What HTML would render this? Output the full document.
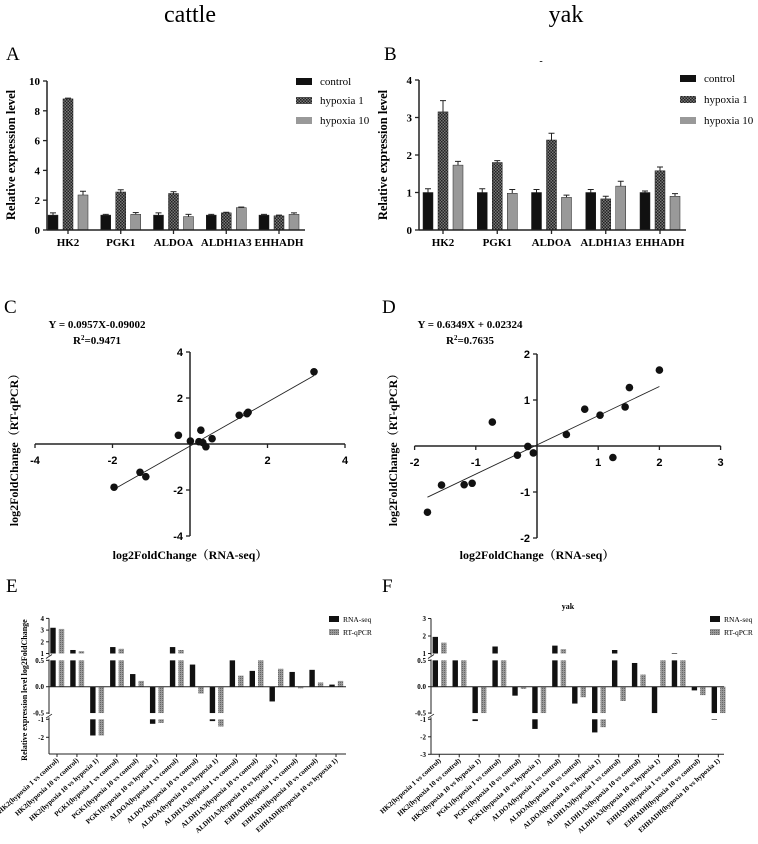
<!DOCTYPE html>
<html><head><meta charset="utf-8"><style>
html,body{margin:0;padding:0;background:#fff;}
svg{display:block;font-family:"Liberation Serif",serif;}
</style></head><body>
<svg id="fig" width="758" height="844" viewBox="0 0 758 844" xmlns="http://www.w3.org/2000/svg">
<defs>
<pattern id="chk" width="3" height="3" patternUnits="userSpaceOnUse"><rect width="3" height="3" fill="#777"/><rect width="1.5" height="1.5" fill="#222"/><rect x="1.5" y="1.5" width="1.5" height="1.5" fill="#222"/></pattern>
<pattern id="chk2" width="2" height="2" patternUnits="userSpaceOnUse"><rect width="2" height="2" fill="#999"/><rect width="1" height="1" fill="#666"/></pattern>
</defs>
<text x="190" y="22" font-size="24" text-anchor="middle">cattle</text>
<text x="566" y="22" font-size="24" text-anchor="middle">yak</text>
<text x="6" y="60" font-size="19">A</text>
<text x="384" y="60" font-size="19">B</text>
<text x="4" y="313" font-size="19">C</text>
<text x="382" y="313" font-size="19">D</text>
<text x="6" y="592" font-size="19">E</text>
<text x="382" y="592" font-size="19">F</text>
<text x="541" y="64" font-size="10" text-anchor="middle">-</text>
<g id="root"></g>
</svg>
<script>
// ---- Panel A/B data ----
const genes = ["HK2","PGK1","ALDOA","ALDH1A3","EHHADH"];
const seriesNames = ["control","hypoxia 1","hypoxia 10"];
const aControl = [1,1,1,1,1];
const aHyp1 = [8.8,2.55,2.45,1.15,0.95];
const aHyp10 = [2.35,1.05,0.9,1.5,1.05];
const aControlErr = [0.15,0.05,0.15,0.05,0.05];
const aHyp1Err = [0.05,0.15,0.12,0.04,0.05];
const aHyp10Err = [0.25,0.12,0.15,0.04,0.1];
const aTicks = [0,2,4,6,8,10];
const bControl = [1,1,1,1,1];
const bHyp1 = [3.15,1.8,2.4,0.83,1.58];
const bHyp10 = [1.73,0.98,0.87,1.17,0.9];
const bControlErr = [0.1,0.1,0.08,0.08,0.04];
const bHyp1Err = [0.3,0.05,0.18,0.07,0.1];
const bHyp10Err = [0.1,0.1,0.06,0.13,0.07];
const bTicks = [0,1,2,3,4];
// ---- Panel C/D data ----
const cX = [3.2,1.5,1.47,1.27,0.57,0.28,0.23,0.33,0.41,0.01,-0.3,-1.29,-1.14,-1.96];
const cY = [3.14,1.38,1.32,1.25,0.23,0.6,0.1,0.06,-0.12,0.13,0.38,-1.23,-1.42,-1.88];
const cFit = [0.957,-0.09];
const cTicks = [-4,-2,2,4];
const dX = [2.0,1.51,1.44,0.78,1.03,0.48,1.24,-0.73,-0.15,-0.32,-0.06,-1.56,-1.19,-1.06,-1.79];
const dY = [1.65,1.27,0.85,0.8,0.67,0.25,-0.25,0.52,-0.01,-0.2,-0.15,-0.85,-0.84,-0.81,-1.44];
const dFit = [0.6349,0.02324];
const dXTicks = [-2,-1,1,2,3];
const dYTicks = [-2,-1,1,2];
// ---- Panel E/F data ----
const compLabels = ["HK2(hypoxia 1 vs control)","HK2(hypoxia 10 vs control)","HK2(hypoxia 10 vs hypoxia 1)","PGK1(hypoxia 1 vs control)","PGK1(hypoxia 10 vs control)","PGK1(hypoxia 10 vs hypoxia 1)","ALDOA(hypoxia 1 vs control)","ALDOA(hypoxia 10 vs control)","ALDOA(hypoxia 10 vs hypoxia 1)","ALDH1A3(hypoxia 1 vs control)","ALDH1A3(hypoxia 10 vs control)","ALDH1A3(hypoxia 10 vs hypoxia 1)","EHHADH(hypoxia 1 vs control)","EHHADH(hypoxia 10 vs control)","EHHADH(hypoxia 10 vs hypoxia 1)"];
const eRna = [3.2,1.3,-1.9,1.55,0.24,-1.25,1.55,0.42,-1.1,0.5,0.3,-0.28,0.28,0.32,0.04];
const eQpcr = [3.1,1.2,-1.9,1.4,0.11,-1.2,1.3,-0.13,-1.4,0.21,0.5,0.34,-0.03,0.08,0.11];
const fRna = [1.95,0.8,-1.1,1.4,-0.17,-1.55,1.45,-0.32,-1.75,1.2,0.45,-0.8,1.02,-0.07,-1.03];
const fQpcr = [1.62,0.8,-0.8,0.8,-0.04,-0.8,1.25,-0.2,-1.45,-0.27,0.23,0.8,0.8,-0.16,-0.8];
const eTopTicks = [1,2,3,4];
const fTopTicks = [1,2,3];
const midTicks = [0.5,0,-0.5];
const eBotTicks = [-1,-2];
const fBotTicks = [-1,-2,-3];

const NS="http://www.w3.org/2000/svg";
const root=document.getElementById('root');
function el(tag,attrs,parent,txt){const e=document.createElementNS(NS,tag);for(const k in attrs)e.setAttribute(k,attrs[k]);if(txt!==undefined)e.textContent=txt;(parent||root).appendChild(e);return e;}

// ---------- bar panels ----------
function barPanel(p,ctrl,h1,h10,ce,h1e,h10e,ticks){
  const y=v=>p.y0-v*p.ppu;
  const gx=i=>p.x0+i*p.sp;
  const g=el('g',{});
  
  
  const fills=["#111","url(#chk)","#999"];
  const sets=[ctrl,h1,h10], errs=[ce,h1e,h10e];
  for(let i=0;i<genes.length;i++){
    for(let s=0;s<3;s++){
      const cx=gx(i)+s*15, v=sets[s][i], e=errs[s][i];
      const r=el('rect',{x:cx-5,y:y(v),width:10,height:p.y0-y(v),fill:fills[s],stroke:'#222','stroke-width':0.5},g);
      
      
      el('line',{x1:cx,x2:cx,y1:y(v),y2:y(v+e),stroke:'#222','stroke-width':1},g);
      el('line',{x1:cx-3,x2:cx+3,y1:y(v+e),y2:y(v+e),stroke:'#222','stroke-width':1},g);
    }
    el('line',{x1:gx(i)+15,x2:gx(i)+15,y1:p.y0,y2:p.y0+4,stroke:'#222','stroke-width':1.3},g);
    const t=el('text',{x:gx(i)+15,y:p.y0+16,'font-size':11,'font-weight':'bold','text-anchor':'middle'},g,genes[i]);
    
    
  }
  el('line',{x1:p.ax,x2:p.ax,y1:p.y0,y2:y(ticks[ticks.length-1]),stroke:'#222','stroke-width':1.5},g);
  el('line',{x1:p.ax,x2:p.xend,y1:p.y0,y2:p.y0,stroke:'#222','stroke-width':1.5},g);
  ticks.forEach(t=>{
    el('line',{x1:p.ax-4,x2:p.ax,y1:y(t),y2:y(t),stroke:'#222','stroke-width':1.3},g);
    const tt=el('text',{x:p.ax-7,y:y(t)+4,'font-size':11,'font-weight':'bold','text-anchor':'end'},g,String(t));
    
    
  });
  const yt=el('text',{transform:`translate(${p.ax-32},${p.y0-75}) rotate(-90)`,'font-size':12.5,'font-weight':'bold','text-anchor':'middle'},g,'Relative expression level');
  
  
  for(let s=0;s<3;s++){
    const ly=p.ly[s];
    const sw=el('rect',{x:p.lx,y:ly-4,width:16,height:7,fill:fills[s]},g);
    
    
    const lt=el('text',{x:p.lx+24,y:ly+3,'font-size':11},g,seriesNames[s]);
    
    
  }
}
barPanel({name:'panel-a-chart',ax:47,y0:230,ppu:14.9,x0:53,sp:52.75,xend:305,lx:296,ly:[82,101,121]},aControl,aHyp1,aHyp10,aControlErr,aHyp1Err,aHyp10Err,aTicks);
barPanel({name:'panel-b-chart',ax:419,y0:230,ppu:37.5,x0:428,sp:54.25,xend:686,lx:680,ly:[79,100,121]},bControl,bHyp1,bHyp10,bControlErr,bHyp1Err,bHyp10Err,bTicks);

// ---------- scatter panels ----------
function scatter(p,xs,ys,fit,xt,yt){
  const X=v=>p.ox+v*p.px, Y=v=>p.oy-v*p.py;
  const g=el('g',{});
  
  
  el('line',{x1:X(p.xmin),x2:X(p.xmax),y1:p.oy,y2:p.oy,stroke:'#222','stroke-width':1.5},g);
  el('line',{x1:p.ox,x2:p.ox,y1:Y(p.ymin),y2:Y(p.ymax),stroke:'#222','stroke-width':1.5},g);
  xt.forEach(t=>{
    el('line',{x1:X(t),x2:X(t),y1:p.oy,y2:p.oy+4,stroke:'#222','stroke-width':1.3},g);
    const tx=el('text',{x:X(t),y:p.oy+20,'font-size':11,'font-weight':'bold','font-family':'Liberation Sans, sans-serif','text-anchor':'middle'},g,String(t));
    
    
  });
  yt.forEach(t=>{
    el('line',{x1:p.ox-4,x2:p.ox,y1:Y(t),y2:Y(t),stroke:'#222','stroke-width':1.3},g);
    const ty=el('text',{x:p.ox-7,y:Y(t)+4,'font-size':11,'font-weight':'bold','font-family':'Liberation Sans, sans-serif','text-anchor':'end'},g,String(t));
    
    
  });
  const x0=Math.min(...xs), x1=Math.max(...xs);
  const fl=el('line',{x1:X(x0),y1:Y(fit[0]*x0+fit[1]),x2:X(x1),y2:Y(fit[0]*x1+fit[1]),stroke:'#222','stroke-width':0.9},g);
  
  
  for(let i=0;i<xs.length;i++){
    const c=el('circle',{cx:X(xs[i]),cy:Y(ys[i]),r:3.8,fill:'#111'},g);
    
    
  }
  const e1=el('text',{x:p.ex,y:328,'font-size':11,'font-weight':'bold','text-anchor':'middle'},g,p.eq);
  
  
  const e2=el('text',{x:p.ex,y:344,'font-size':11,'font-weight':'bold','text-anchor':'middle'},g);
  
  
  e2.innerHTML='R<tspan dy="-4" font-size="7">2</tspan><tspan dy="4">='+p.r2+'</tspan>';
  const xtit=el('text',{x:p.ox,y:559,'font-size':12,'font-weight':'bold','text-anchor':'middle','font-family':'Liberation Serif, Noto Serif CJK SC, serif'},g,'log2FoldChange（RNA-seq）');
  
  
  const ytit=el('text',{transform:`translate(${p.ytx},447) rotate(-90)`,'font-size':12,'font-weight':'bold','text-anchor':'middle','font-family':'Liberation Serif, Noto Serif CJK SC, serif'},g,'log2FoldChange（RT-qPCR）');
  
  
}
scatter({name:'panel-c-scatter',ox:190,oy:444,px:38.75,py:23,xmin:-4,xmax:4,ymin:-4,ymax:4,ex:97,eq:'Y = 0.0957X-0.09002',r2:'0.9471',ytx:18},cX,cY,cFit,cTicks,cTicks);
scatter({name:'panel-d-scatter',ox:537,oy:446,px:61.2,py:46,xmin:-2,xmax:3,ymin:-2,ymax:2,ex:470,eq:'Y = 0.6349X + 0.02324',r2:'0.7635',ytx:397},dX,dY,dFit,dXTicks,dYTicks);

// ---------- broken-axis comparison panels ----------
function broken(p,rna,qp,topT,botT){
  const g=el('g',{});
  
  
  const Yt=v=>653.5-(v-1)*p.tp;
  const Ym=v=>686.7-v*52.7;
  const Yb=v=>719.3+(-1-v)*p.bp;
  const cx=i=>p.c0+i*19.93;
  function bar(xc,v,fill,nm){
    const parts=[];
    const vm=Math.max(-0.5,Math.min(0.5,v));
    parts.push([Ym(Math.max(vm,0)),Ym(Math.min(vm,0))]);
    if(v>1) parts.push([Yt(v),Yt(1)]);
    if(v<-1) parts.push([Yb(-1),Yb(v)]);
    parts.forEach(pp=>{
      const r=el('rect',{x:xc-2.7,y:pp[0],width:5.4,height:Math.max(0.6,pp[1]-pp[0]),fill:fill},g);
      
      
    });
  }
  for(let i=0;i<compLabels.length;i++){
    bar(cx(i)-4,rna[i],'#111','bar-rna-seq-'+i);
    bar(cx(i)+4.5,qp[i],'url(#chk2)','bar-rt-qpcr-'+i);
    el('line',{x1:cx(i),x2:cx(i),y1:p.yb,y2:p.yb+3,stroke:'#222','stroke-width':1},g);
    const t=el('text',{transform:`translate(${cx(i)+2},${p.yb+7}) rotate(-42)`,'font-size':7,'font-weight':'bold','text-anchor':'end'},g,compLabels[i]);
    
    
  }
  el('line',{x1:p.ax,x2:p.xend,y1:Ym(0),y2:Ym(0),stroke:'#222','stroke-width':1},g);
  el('line',{x1:p.ax,x2:p.xend,y1:p.yb,y2:p.yb,stroke:'#222','stroke-width':1},g);
  el('line',{x1:p.ax,x2:p.ax,y1:Yt(topT[topT.length-1]),y2:Yt(1)+2,stroke:'#222','stroke-width':1},g);
  el('line',{x1:p.ax,x2:p.ax,y1:Ym(0.5)-1,y2:Ym(-0.5)+1,stroke:'#222','stroke-width':1},g);
  el('line',{x1:p.ax,x2:p.ax,y1:Yb(-1)-2,y2:p.yb,stroke:'#222','stroke-width':1},g);
  [Yt(1)+3,Ym(-0.5)+3].forEach(yy=>{
    el('line',{x1:p.ax-3,x2:p.ax+3,y1:yy+2,y2:yy-2,stroke:'#222','stroke-width':0.8},g);
  });
  const tk=(yy,lab)=>{
    el('line',{x1:p.ax-3,x2:p.ax,y1:yy,y2:yy,stroke:'#222','stroke-width':1},g);
    const t=el('text',{x:p.ax-5,y:yy+2.5,'font-size':7,'font-weight':'bold','text-anchor':'end'},g,lab);
    
    
  };
  topT.forEach(v=>tk(Yt(v),String(v)));
  midTicks.forEach(v=>tk(Ym(v),v.toFixed(1)));
  botT.forEach(v=>tk(Yb(v),String(v)));
  const l1=el('rect',{x:p.lx,y:616,width:10,height:6,fill:'#111'},g);
  
  
  const l2=el('rect',{x:p.lx,y:629,width:10,height:6,fill:'url(#chk2)'},g);
  
  
  const t1=el('text',{x:p.lx+14,y:622,'font-size':7.5},g,'RNA-seq');
  
  
  const t2=el('text',{x:p.lx+14,y:635,'font-size':7.5},g,'RT-qPCR');
  
  
}
broken({name:'panel-e-chart',ax:49,xend:346,c0:57,tp:11.7,bp:18,yb:754,lx:329},eRna,eQpcr,eTopTicks,eBotTicks);
broken({name:'panel-f-chart',ax:431,xend:724,c0:439.3,tp:17.5,bp:17.5,yb:754.3,lx:710},fRna,fQpcr,fTopTicks,fBotTicks);
const ey=el('text',{transform:'translate(27,690) rotate(-90)','font-size':8,'font-weight':'bold','text-anchor':'middle'},root,'Relative expression level log2FoldChange');


const fy=el('text',{x:568,y:609,'font-size':8,'font-weight':'bold','text-anchor':'middle'},root,'yak');


</script>
</body></html>
